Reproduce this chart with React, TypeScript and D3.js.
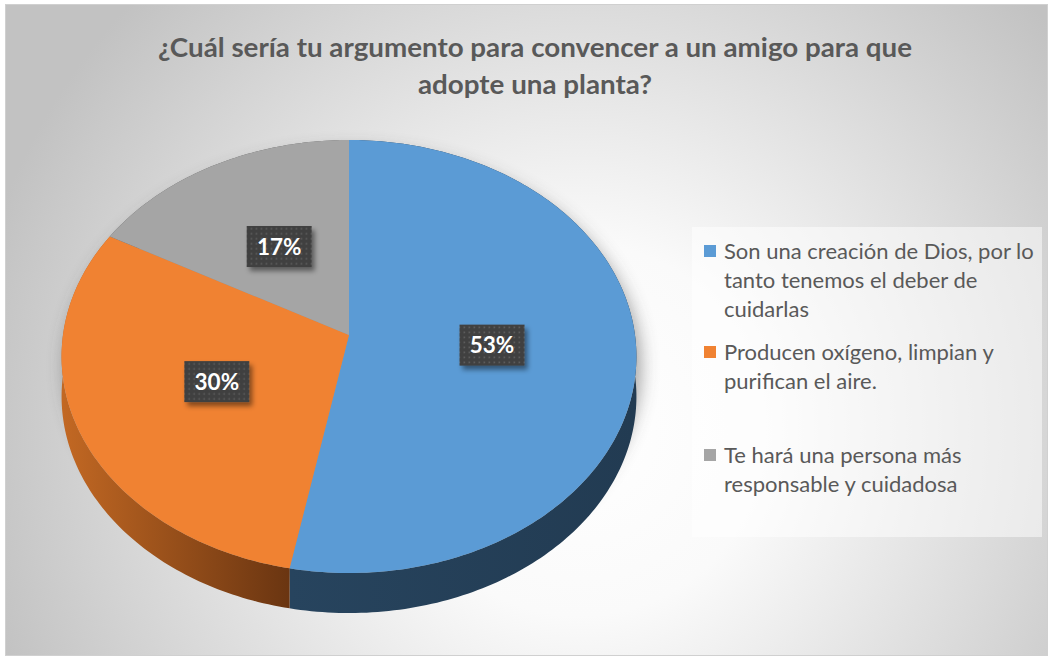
import React from "react";
import * as d3 from "d3";

const categories = [
  "Son una creación de Dios, por lo tanto tenemos el deber de cuidarlas",
  "Producen oxígeno, limpian y purifican el aire.",
  "Te hará una persona más responsable y cuidadosa",
];
const legendLines = [
  ["Son una creación de Dios, por lo", "tanto tenemos el deber de", "cuidarlas"],
  ["Producen oxígeno, limpian y", "purifican el aire."],
  ["Te hará una persona más", "responsable y cuidadosa"],
];
const values = [53, 30, 17];
const titleLines = ["¿Cuál sería tu argumento para convencer a un amigo para que", "adopte una planta?"];
const titleWidths = [754, 234];
const topColors = ["#5B9BD5", "#F08232", "#A5A5A5"];
const sideFrom = ["#27445E", "#C26823", "#7A7A7A"];
const sideTo = ["#223B52", "#6A3511", "#5E5E5E"];

const W = 1052, H = 659;
const CX = 349, CY = 335, AX = 286, BY = 214.4, K = 0.0993, DEPTH = 40;

function proj(a: number, f = 1): [number, number] {
  const u = f * Math.sin(a);
  const v = -f * Math.cos(a);
  const d = 1 - K * v;
  return [CX + (AX * u) / d, CY + (BY * v) / d];
}

function rim(a0: number, a1: number): [number, number][] {
  const n = Math.max(2, Math.ceil(((a1 - a0) * 180) / Math.PI));
  return d3.range(n + 1).map((i) => proj(a0 + ((a1 - a0) * i) / n));
}

export default function App() {
  const pie = d3.pie<number>().sort(null).value((d) => d).startAngle(0).endAngle(2 * Math.PI);
  const arcs = pie(values);
  const line = d3.line<[number, number]>();

  const topPath = (a: d3.PieArcDatum<number>) => {
    const pts = rim(a.startAngle, a.endAngle);
    return "M" + CX + "," + CY + "L" + pts.map((p) => p.join(",")).join("L") + "Z";
  };
  const sidePath = (a: d3.PieArcDatum<number>) => {
    const pts = rim(a.startAngle, a.endAngle);
    const bottom = pts.map(([x, y]) => [x, y + DEPTH] as [number, number]).reverse();
    return line(pts.concat(bottom)) + "Z";
  };
  const full = rim(0, 2 * Math.PI);
  const front = rim(Math.PI / 2, 1.5 * Math.PI);
  const silhouette =
    line(full) + "Z" + line(full.map(([x, y]) => [x, y + DEPTH] as [number, number])) + "Z" +
    line(front.concat(front.map(([x, y]) => [x, y + DEPTH] as [number, number]).reverse())) + "Z";

  const sideOrder = [2, 0, 1];
  const fontMain = "Lato, 'Open Sans', sans-serif";
  const legendY = [259, 360, 463];

  return (
    <svg width={W} height={H} style={{ position: "absolute", left: 0, top: 0 }} xmlns="http://www.w3.org/2000/svg">
      <defs>
        <radialGradient id="bg" gradientUnits="userSpaceOnUse" cx={580} cy={430} r={620}>
          <stop offset="0" stopColor="#FFFFFF" />
          <stop offset="0.3" stopColor="#FAFAFA" />
          <stop offset="1" stopColor="#C2C2C2" />
        </radialGradient>
        {arcs.map((a, i) => {
          const x0 = proj(Math.max(a.startAngle, Math.PI / 2))[0];
          const x1 = proj(Math.min(a.endAngle, 1.5 * Math.PI))[0];
          return (
            <linearGradient key={i} id={"side" + i} gradientUnits="userSpaceOnUse" x1={Math.min(x0, x1)} x2={Math.max(x0, x1)} y1={0} y2={0}>
              <stop offset="0" stopColor={sideFrom[i]} />
              <stop offset="1" stopColor={sideTo[i]} />
            </linearGradient>
          );
        })}
        <filter id="pieShadow" x="-20%" y="-20%" width="140%" height="140%">
          <feGaussianBlur stdDeviation="9" />
        </filter>
        <filter id="boxShadow" x="-30%" y="-30%" width="160%" height="160%">
          <feDropShadow dx="3" dy="4" stdDeviation="2.5" floodColor="#000" floodOpacity="0.45" />
        </filter>
        <pattern id="dots" width="5" height="5" patternUnits="userSpaceOnUse">
          <rect width="5" height="5" fill="#404040" />
          <rect x="1.5" y="1.5" width="1.6" height="1.6" fill="#5E5E5E" />
        </pattern>
      </defs>
      <rect x={0} y={0} width={W} height={H} fill="#FFFFFF" />
      <rect x={5.5} y={4.5} width={1042} height={651} fill="url(#bg)" stroke="#D0D0D0" strokeWidth={1} />

      {titleLines.map((t, i) => (
        <text
          key={i}
          x={535}
          y={57 + i * 37}
          textAnchor="middle"
          fontFamily={fontMain}
          fontWeight="bold"
          fontSize={26.5}
          textLength={titleWidths[i]}
          lengthAdjust="spacingAndGlyphs"
          fill="#595959"
        >
          {t}
        </text>
      ))}

      <g transform="translate(4,10)" opacity={0.5}>
        <path d={silhouette} fill="#404040" filter="url(#pieShadow)" />
      </g>

      {sideOrder.map((i) => (
        <path key={"s" + i} d={sidePath(arcs[i])} fill={`url(#side${i})`} />
      ))}
      {arcs.map((a, i) => (
        <path key={"t" + i} d={topPath(a)} fill={topColors[i]} />
      ))}

      {arcs.map((a, i) => {
        const mid = (a.startAngle + a.endAngle) / 2;
        const [x, y] = proj(mid, 0.5);
        return (
          <g key={"l" + i} transform={`translate(${x},${y})`}>
            <rect x={-32.5} y={-20.5} width={65} height={41} fill="url(#dots)" filter="url(#boxShadow)" />
            <text x={0} y={8} textAnchor="middle" fontFamily={fontMain} fontWeight="bold" fontSize={22.5} fill="#FFFFFF">
              {d3.format(".0%")(a.data / 100)}
            </text>
          </g>
        );
      })}

      <rect x={692} y={227} width={350} height={310} fill="#FFFFFF" fillOpacity={0.5} />
      {legendLines.map((lines, i) => (
        <g key={"lg" + i}>
          <rect x={704} y={legendY[i] - 14} width={12} height={12} fill={topColors[i]} />
          {lines.map((t, j) => (
            <text key={j} x={724} y={legendY[i] + j * 29} fontFamily={fontMain} fontSize={22} fill="#595959">
              {t}
            </text>
          ))}
        </g>
      ))}
    </svg>
  );
}
